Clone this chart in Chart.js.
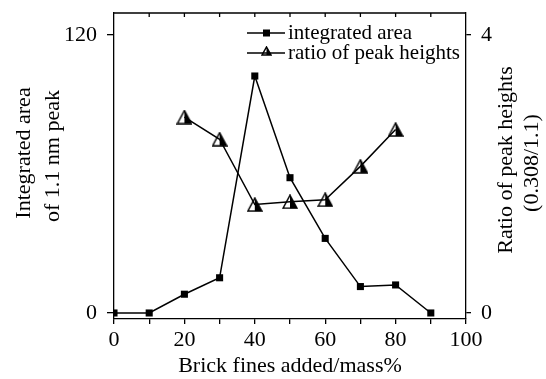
<!DOCTYPE html>
<html>
<head>
<meta charset="utf-8">
<script src="https://cdn.jsdelivr.net/npm/chart.js@4.4.1/dist/chart.umd.min.js"></script>
<style>
  html, body { margin: 0; padding: 0; background: #fff; }
  #wrap { width: 546px; height: 379px; }
</style>
</head>
<body>
<div id="wrap"><canvas id="my-chart" width="546" height="379"></canvas></div>
<script>
const brickFines = [0, 10, 20, 30, 40, 50, 60, 70, 80, 90];
const integratedArea = [0, 0, 8.1, 15.2, 102.3, 58.4, 32.2, 11.4, 12.1, 0];
const ratioFines = [20, 30, 40, 50, 60, 70, 80];
const peakRatio = [2.82, 2.50, 1.56, 1.60, 1.63, 2.11, 2.64];
const leftTicks = [0, 120];
const rightTicks = [0, 4];
const xTickLabels = [0, 20, 40, 60, 80, 100];

const serif = '"Liberation Serif", "Times New Roman", serif';

// half white / half black triangle marker
function makeTriangle(w, h) {
  const c = document.createElement('canvas');
  c.width = w + 2; c.height = h + 2;
  const g = c.getContext('2d');
  const m = 1 + w / 2;
  g.beginPath();
  g.moveTo(m, 1); g.lineTo(m, h + 1); g.lineTo(w + 1, h + 1); g.closePath();
  g.fillStyle = '#000'; g.fill();
  g.beginPath();
  g.moveTo(1, h + 1); g.lineTo(m, 1); g.lineTo(w + 1, h + 1); g.closePath();
  g.strokeStyle = '#000'; g.lineWidth = 1.5; g.stroke();
  return c;
}
const tri = makeTriangle(14, 13);
const triSmall = makeTriangle(9, 8);

function rotatedLines(ctx, cx, lines) {
  // lines: [text, x, yCenter], drawn reading bottom to top
  lines.forEach(([t, x, y]) => {
    ctx.save();
    ctx.translate(x, y);
    ctx.rotate(-Math.PI / 2);
    ctx.fillText(t, 0, 0);
    ctx.restore();
  });
}

const extras = {
  id: 'extras',
  afterDraw(chart) {
    const ctx = chart.ctx;
    const a = chart.chartArea;
    const x = chart.scales.x;
    ctx.save();
    // top border with inward ticks
    ctx.strokeStyle = '#000';
    ctx.lineWidth = 1.3;
    ctx.beginPath();
    ctx.moveTo(a.left, a.top); ctx.lineTo(a.right, a.top);
    for (let v = 10; v < 100; v += 10) {
      const px = x.getPixelForValue(v);
      ctx.moveTo(px, a.top); ctx.lineTo(px, a.top + 4);
    }
    ctx.stroke();

    // axis titles on both sides, reading bottom to top
    ctx.fillStyle = '#000';
    ctx.font = '22px ' + serif;
    ctx.textAlign = 'center';
    ctx.textBaseline = 'middle';
    rotatedLines(ctx, 0, [
      ['Integrated area', 24, 153],
      ['of 1.1 nm peak', 53, 156],
      ['Ratio of peak heights', 506, 160],
      ['(0.308/1.1)', 532, 163]
    ]);
    ctx.restore();

    // legend
    ctx.save();
    ctx.font = '21px ' + serif;
    ctx.fillStyle = '#000';
    ctx.textBaseline = 'middle';
    ctx.strokeStyle = '#000';
    ctx.lineWidth = 1.5;
    const rows = [
      { y: 33, label: 'integrated area', mark: 'sq' },
      { y: 53, label: 'ratio of peak heights', mark: 'tri' }
    ];
    rows.forEach(r => {
      ctx.beginPath();
      ctx.moveTo(247, r.y); ctx.lineTo(285, r.y);
      ctx.stroke();
      if (r.mark === 'sq') {
        ctx.fillRect(263, r.y - 3.5, 7, 7);
      } else {
        ctx.drawImage(triSmall, 261, r.y - 7);
      }
      ctx.fillText(r.label, 288, r.y);
    });
    ctx.restore();
  }
};

const ctx = document.getElementById('my-chart').getContext('2d');
const chart = new Chart(ctx, {
  type: 'line',
  data: {
    datasets: [
      {
        label: 'integrated area',
        data: brickFines.map((v, i) => ({ x: v, y: integratedArea[i] })),
        yAxisID: 'y',
        borderColor: '#000',
        backgroundColor: '#000',
        borderWidth: 1.5,
        pointStyle: 'rect',
        pointRadius: 5,
        pointBorderWidth: 0,
        tension: 0
      },
      {
        label: 'ratio of peak heights',
        data: ratioFines.map((v, i) => ({ x: v, y: peakRatio[i] })),
        yAxisID: 'y2',
        borderColor: '#000',
        backgroundColor: '#000',
        borderWidth: 1.5,
        pointStyle: tri,
        tension: 0
      }
    ]
  },
  options: {
    responsive: false,
    animation: false,
    layout: { padding: { top: 13, left: 0, right: 0, bottom: 0 } },
    plugins: { legend: { display: false }, tooltip: { enabled: false } },
    scales: {
      x: {
        type: 'linear',
        min: 0,
        max: 100,
        afterFit(s) { s.height = 60; s.paddingLeft = 0; s.paddingRight = 0; },
        afterBuildTicks(s) { s.ticks = brickFines.concat([100]).map(v => ({ value: v })); },
        border: { color: '#000', width: 1.3 },
        grid: { drawOnChartArea: false, color: '#000', tickLength: 5, lineWidth: 1.3 },
        ticks: {
          autoSkip: false,
          maxRotation: 0,
          padding: 3,
          color: '#000',
          font: { family: serif, size: 22 },
          callback: v => xTickLabels.includes(v) ? String(v) : ''
        },
        title: {
          display: true,
          text: 'Brick fines added/mass%',
          color: '#000',
          font: { family: serif, size: 22 },
          padding: { top: 0, bottom: 0 }
        }
      },
      y: {
        type: 'linear',
        position: 'left',
        min: -2.6,
        max: 129.5,
        afterFit(s) { s.width = 114; s.paddingTop = 0; s.paddingBottom = 0; },
        afterBuildTicks(s) { s.ticks = leftTicks.map(v => ({ value: v })); },
        border: { color: '#000', width: 1.3 },
        grid: { drawOnChartArea: false, color: '#000', tickLength: 7, lineWidth: 1.3 },
        ticks: {
          padding: 10,
          color: '#000',
          font: { family: serif, size: 22 }
        }
      },
      y2: {
        type: 'linear',
        position: 'right',
        min: -0.087,
        max: 4.317,
        afterFit(s) { s.width = 80; s.paddingTop = 0; s.paddingBottom = 0; },
        afterBuildTicks(s) { s.ticks = rightTicks.map(v => ({ value: v })); },
        border: { color: '#000', width: 1.3 },
        grid: { drawOnChartArea: false, color: '#000', tickLength: 5, lineWidth: 1.3 },
        ticks: {
          padding: 10,
          color: '#000',
          font: { family: serif, size: 22 }
        }
      }
    }
  },
  plugins: [extras]
});
</script>
</body>
</html>
